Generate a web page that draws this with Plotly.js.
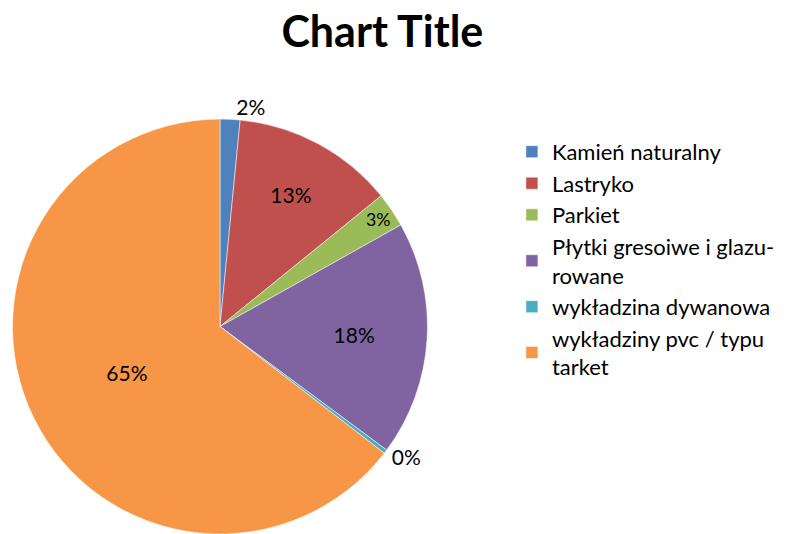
<!DOCTYPE html>
<html>
<head>
<meta charset="utf-8">
<script src="https://cdn.plot.ly/plotly-3.0.1.min.js"></script>
<style>html,body{margin:0;padding:0;background:#fff;}#chart{width:790px;height:534px;}</style>
</head>
<body>
<div id="chart"></div>
<script>
const categories = ["Kamień naturalny", "Lastryko", "Parkiet", "Płytki gresoiwe i glazu-<br>rowane", "wykładzina dywanowa", "wykładziny pvc / typu<br>tarket"];
const values = [1.55, 12.6, 2.7, 18.3, 0.3, 64.55];
const colors = ["#4F81BD", "#C0504D", "#9BBB59", "#8064A2", "#4BACC6", "#F79646"];
const textPositions = ["outside", "inside", "inside", "inside", "outside", "inside"];

const trace = {
  type: "pie",
  labels: categories,
  values: values,
  sort: false,
  direction: "clockwise",
  rotation: 0,
  marker: {colors: colors, line: {color: "#ffffff", width: 0.5}},
  texttemplate: "%{percent:.0%}",
  textposition: textPositions,
  insidetextorientation: "horizontal",
  textfont: {family: "Lato, 'Noto Sans', sans-serif", size: 21, color: "#000000"},
  outsidetextfont: {family: "Lato, 'Noto Sans', sans-serif", size: 21, color: "#000000"},
  hoverinfo: "label+percent",
  domain: {x: [12/790, 428/790], y: [0, 0.777]},
  automargin: false
};

const layout = {
  width: 790, height: 534,
  margin: {l: 0, r: 0, t: 0, b: 0},
  paper_bgcolor: "#ffffff",
  title: {text: "<b>Chart Title</b>", x: 0.484, xanchor: "center", y: 0.94, yanchor: "middle",
          font: {family: "Lato, 'Noto Sans', sans-serif", size: 43, color: "#000000"}},
  showlegend: true,
  legend: {x: 0.648, y: 0.755, xanchor: "left", yanchor: "top",
           font: {family: "Lato, 'Noto Sans', sans-serif", size: 22, color: "#000000"},
           itemwidth: 30, tracegroupgap: 0}
};

Plotly.newPlot("chart", [trace], layout, {displayModeBar: false, staticPlot: true});
</script>
</body>
</html>
